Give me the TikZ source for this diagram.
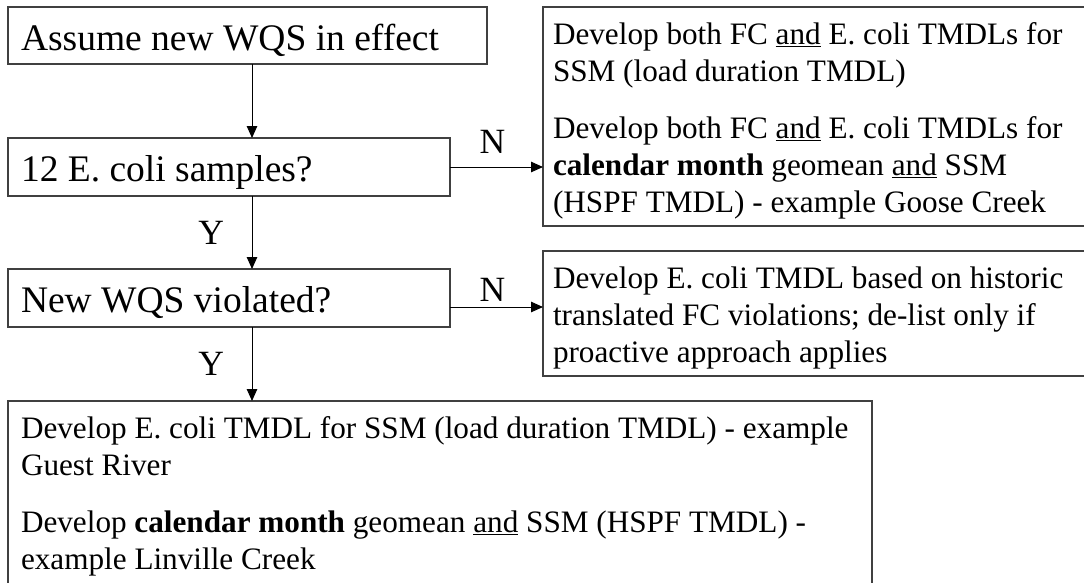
\documentclass[tikz,border=0pt]{standalone}
\usepackage{fontspec}
\setmainfont{Liberation Serif}
\usetikzlibrary{arrows.meta}

\tikzset{
    every node/.style={outer sep=0pt},
    question/.style={draw=black!75, line width=1.3pt, anchor=north west,
        align=flush left, inner xsep=13pt, inner ysep=0pt,
        text height=43pt, text depth=15pt,
        font=\fontsize{37.5}{45}\selectfont},
    action/.style={draw=black!75, line width=1.3pt, anchor=north west,
        align=flush left, inner xsep=10pt, inner ysep=0pt, text height=37pt,
        font=\fontsize{31.2}{37}\selectfont},
    flow/.style={line width=1pt, -{Triangle[length=12pt, width=10.5pt]}},
    answer/.style={inner sep=0pt, font=\fontsize{35.5}{42}\selectfont},
}

\begin{document}
\frenchspacing
\hyphenpenalty=10000
\begin{tikzpicture}[x=1pt, y=-1pt]

    \useasboundingbox (0,0) rectangle (1084,582);
    \clip (0,0) rectangle (1084,582);

    \coordinate (spine) at (252,0);

    % decision column
    \node[question, text width=453pt, text depth=14pt] (assume) at (8,7)
        {Assume new WQS in effect};
    \node[question, text width=416pt] (samples) at (8,138)
        {12 E. coli samples?};
    \node[question, text width=416pt] (violated) at (8,269)
        {New WQS violated?};

    % outcomes
    \node[action, text width=540pt, text depth=182pt] (fcboth) at (543,7)
        {Develop both FC \underline{and} E. coli TMDLs for\\
         SSM (load duration TMDL)\\[20pt]
         Develop both FC \underline{and} E. coli TMDLs for\\
         \textbf{calendar month} geomean \underline{and} SSM\\
         (HSPF TMDL) - example Goose Creek};
    \node[action, text width=540pt, text depth=88pt] (historic) at (543,251)
        {Develop E. coli TMDL based on historic\\
         translated FC violations; de-list only if\\
         proactive approach applies};
    \node[action, inner xsep=13pt, text width=838pt, text depth=162pt] (guest) at (8,401)
        {Develop E. coli TMDL for SSM (load duration TMDL) - example\\
         Guest River\\[20pt]
         Develop \textbf{calendar month} geomean \underline{and} SSM (HSPF TMDL) -\\
         example Linville Creek};

    % yes branch
    \draw[flow] (assume.south -| spine) -- (samples.north -| spine);
    \draw[flow] (samples.south -| spine) -- (violated.north -| spine)
        node[midway, left=28pt, answer] {Y};
    \draw[flow] (violated.south -| spine) -- (guest.north -| spine)
        node[midway, left=28pt, answer] {Y};

    % no branch
    \draw[flow] (samples.east) -- (samples.east -| fcboth.west)
        node[midway, above=14pt, xshift=-4pt, answer] {N};
    \draw[flow] ([yshift=20pt]violated.south east) coordinate (nohist)
        -- (nohist -| historic.west)
        node[midway, above=6pt, xshift=-4pt, answer] {N};

\end{tikzpicture}
\end{document}
